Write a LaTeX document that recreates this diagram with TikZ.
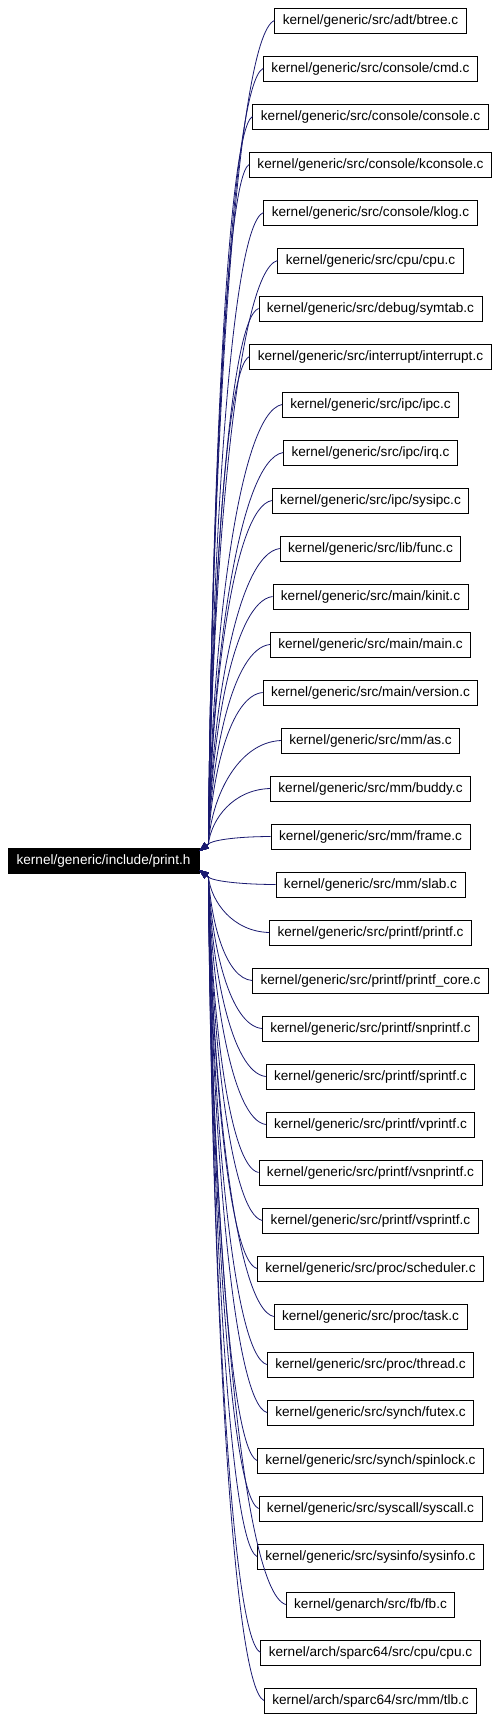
\documentclass[tikz,border=0pt]{standalone}
\usepackage{fontspec}
\setmainfont{Liberation Sans}
\usetikzlibrary{arrows.meta,calc}
\definecolor{navyc}{HTML}{191970}
\begin{document}
\begin{tikzpicture}[x=1pt,y=1pt,
  box/.style={draw=black, line width=0.8pt, fill=white, minimum height=25pt,
    inner xsep=8pt, inner ysep=0pt, font=\fontsize{13.6}{16}\selectfont},
  mainbox/.style={box, fill=black, text=white, minimum width=191pt},
  conn/.style={draw=navyc, line width=0.8pt, {Triangle[length=9pt,width=7pt]}-}]
\path[use as bounding box] (0,0) rectangle (500,-1719);
\node[mainbox] (main) at (103.5,-860.5) {kernel/generic/include/print.h};
\coordinate (inU) at ($(main.east)+(0,9.5)$);
\coordinate (inL) at ($(main.east)+(0,-9.5)$);
\foreach \t [count=\i from 0] in {
kernel/generic/src/adt/btree.c,
kernel/generic/src/console/cmd.c,
kernel/generic/src/console/console.c,
kernel/generic/src/console/kconsole.c,
kernel/generic/src/console/klog.c,
kernel/generic/src/cpu/cpu.c,
kernel/generic/src/debug/symtab.c,
kernel/generic/src/interrupt/interrupt.c,
kernel/generic/src/ipc/ipc.c,
kernel/generic/src/ipc/irq.c,
kernel/generic/src/ipc/sysipc.c,
kernel/generic/src/lib/func.c,
kernel/generic/src/main/kinit.c,
kernel/generic/src/main/main.c,
kernel/generic/src/main/version.c,
kernel/generic/src/mm/as.c,
kernel/generic/src/mm/buddy.c,
kernel/generic/src/mm/frame.c,
kernel/generic/src/mm/slab.c,
kernel/generic/src/printf/printf.c,
kernel/generic/src/printf/printf\_core.c,
kernel/generic/src/printf/snprintf.c,
kernel/generic/src/printf/sprintf.c,
kernel/generic/src/printf/vprintf.c,
kernel/generic/src/printf/vsnprintf.c,
kernel/generic/src/printf/vsprintf.c,
kernel/generic/src/proc/scheduler.c,
kernel/generic/src/proc/task.c,
kernel/generic/src/proc/thread.c,
kernel/generic/src/synch/futex.c,
kernel/generic/src/synch/spinlock.c,
kernel/generic/src/syscall/syscall.c,
kernel/generic/src/sysinfo/sysinfo.c,
kernel/genarch/src/fb/fb.c,
kernel/arch/sparc64/src/cpu/cpu.c,
kernel/arch/sparc64/src/mm/tlb.c}{
  \node[box] (n\i) at (370.5,{-20.5-48*\i}) {\t};
}
\foreach \i in {0,...,17}{
  \draw[conn] let \p1=(n\i.west), \p2=(inU), \p3=($(inU)+(9,7)$) in
    (\p2) -- (\p3) .. controls ({\x3+3pt},{\y3+0.45*(\y1-\y3)}) and ({\x1-0.6*(\x1-\x3)},{\y1-0.02*(\y1-\y3)}) .. (\p1);
}
\foreach \i in {18,...,35}{
  \draw[conn] let \p1=(n\i.west), \p2=(inL), \p3=($(inL)+(9,-7)$) in
    (\p2) -- (\p3) .. controls ({\x3+3pt},{\y3+0.45*(\y1-\y3)}) and ({\x1-0.6*(\x1-\x3)},{\y1-0.02*(\y1-\y3)}) .. (\p1);
}
\end{tikzpicture}
\end{document}
